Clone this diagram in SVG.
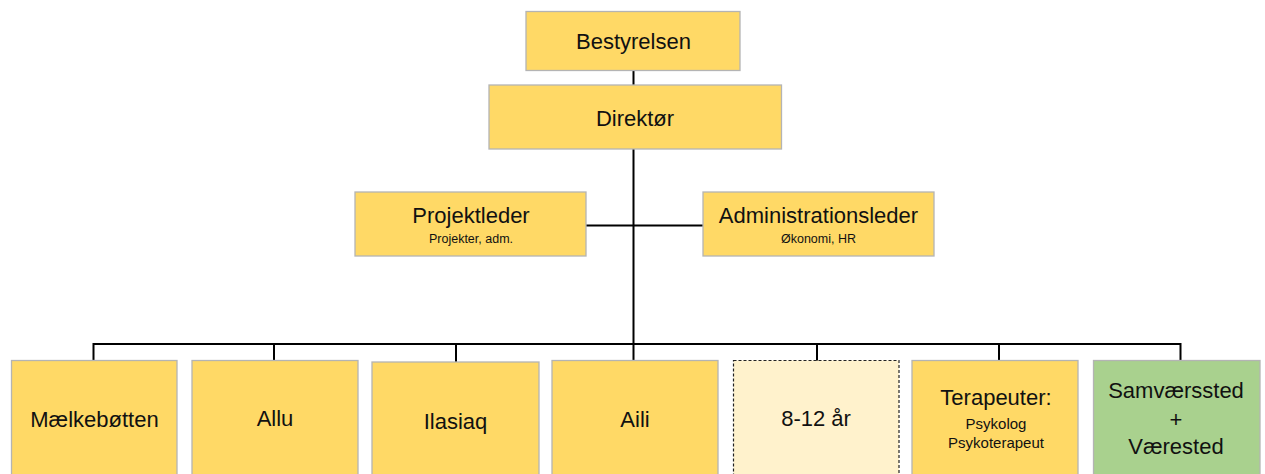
<svg xmlns="http://www.w3.org/2000/svg" width="1265" height="474" viewBox="0 0 1265 474">
<style>
.box{fill:#FFD966;stroke:#B4B4B4;stroke-width:1.3}
.green{fill:#A9D18E;stroke:#B4B4B4;stroke-width:1.3}
.light{fill:#FFF2CC;stroke:#222;stroke-width:1.2;stroke-dasharray:3,2}
.t{font-family:"Liberation Sans",Arial,sans-serif;font-size:22px;fill:#111;text-anchor:middle}
.s{font-family:"Liberation Sans",Arial,sans-serif;font-size:12.5px;fill:#111;text-anchor:middle}
.m{font-family:"Liberation Sans",Arial,sans-serif;font-size:15px;fill:#111;text-anchor:middle}
.c{stroke:#000;stroke-width:2;fill:none}
</style>
<rect width="1265" height="474" fill="#fff"/>
<g id="connectors">
<path class="c" d="M633.5 71V345"/>
<path class="c" d="M586 225.5H703"/>
<path class="c" d="M93.5 361V344H1180.5V361"/>
<path class="c" d="M274 344V361M456 344V362M633.5 344V361M817 344V361M999 344V361"/>
</g>
<g id="bestyrelsen"><rect class="box" x="526" y="11.5" width="214" height="59"/><text class="t" x="633.5" y="49">Bestyrelsen</text></g>
<g id="direktor"><rect class="box" x="489" y="85" width="292.5" height="64"/><text class="t" x="635" y="126">Direktør</text></g>
<g id="projektleder"><rect class="box" x="355" y="192" width="231" height="64"/><text class="t" x="471" y="223">Projektleder</text><text class="s" x="471" y="243">Projekter, adm.</text></g>
<g id="administrationsleder"><rect class="box" x="703" y="192" width="231" height="64"/><text class="t" x="818.5" y="223">Administrationsleder</text><text class="s" x="818.5" y="243">Økonomi, HR</text></g>
<g id="maelkebotten"><rect class="box" x="11.5" y="360.5" width="165.5" height="120"/><text class="t" x="94.5" y="426.5">Mælkebøtten</text></g>
<g id="allu"><rect class="box" x="192" y="360.5" width="166" height="120"/><text class="t" x="275" y="426">Allu</text></g>
<g id="ilasiaq"><rect class="box" x="372" y="362" width="167" height="120"/><text class="t" x="455.5" y="429">Ilasiaq</text></g>
<g id="aili"><rect class="box" x="552" y="360.5" width="166" height="120"/><text class="t" x="635" y="426.5">Aili</text></g>
<g id="age812"><rect class="light" x="733.5" y="360.5" width="165.5" height="120"/><text class="t" x="816" y="426">8-12 år</text></g>
<g id="terapeuter"><rect class="box" x="912" y="360.5" width="166" height="120"/><text class="t" x="996" y="405">Terapeuter:</text><text class="m" x="996" y="428.5">Psykolog</text><text class="m" x="996" y="448">Psykoterapeut</text></g>
<g id="samvaerssted"><rect class="green" x="1093.5" y="360.5" width="166.5" height="120"/><text class="t" x="1176" y="398">Samværssted</text><text class="t" x="1176" y="427">+</text><text class="t" x="1176" y="454">Værested</text></g>
</svg>
